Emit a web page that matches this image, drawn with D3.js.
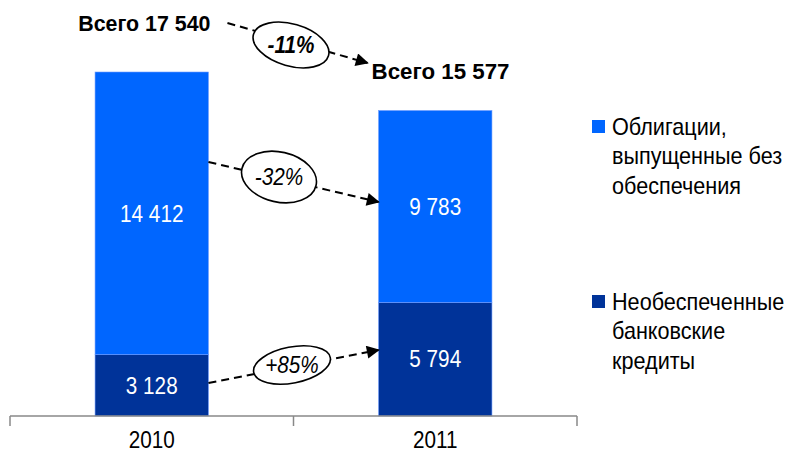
<!DOCTYPE html>
<html>
<head>
<meta charset="utf-8">
<script src="https://cdn.jsdelivr.net/npm/d3@7"></script>
<style>
  body { margin: 0; background: #fff; }
  svg { display: block; font-family: "Liberation Sans", Arial, sans-serif; }
</style>
</head>
<body>
<svg></svg>
<script>
const width = 787;
const height = 461;

// data
const years = ["2010", "2011"];
const secured = [14412, 9783];      // Облигации, выпущенные без обеспечения
const loans = [3128, 5794];         // Необеспеченные банковские кредиты
const totals = [17540, 15577];
const totalLabels = ["Всего 17 540", "Всего 15 577"];
const segLabels = [["3 128", "14 412"], ["5 794", "9 783"]];
const changes = ["-11%", "-32%", "+85%"];
const seriesNames = [
  ["Облигации,", "выпущенные без", "обеспечения"],
  ["Необеспеченные", "банковские", "кредиты"]
];
const colors = ["#0066ff", "#003399"];

const x = d3.scaleBand()
  .domain(years)
  .range([10, 577])
  .paddingInner(0.6)
  .paddingOuter(0.3);

const y = d3.scaleLinear()
  .domain([0, 17540])
  .range([416, 72]);

const svg = d3.select("svg")
  .attr("width", width)
  .attr("height", height)
  .attr("viewBox", [0, 0, width, height]);

// narrow text a bit, the original font is a condensed Arial
const sx = 0.9;
function place(sel, px, py, k = sx) {
  return sel.attr("transform", `translate(${px},${py}) scale(${k},1)`);
}

const defs = svg.append("defs");
defs.append("marker")
  .attr("id", "arrow")
  .attr("viewBox", "0 0 10 10")
  .attr("refX", 9)
  .attr("refY", 5)
  .attr("markerWidth", 7.5)
  .attr("markerHeight", 6.5)
  .attr("markerUnits", "strokeWidth")
  .attr("orient", "auto")
  .append("path")
  .attr("d", "M0,0L10,5L0,10Z")
  .attr("fill", "#000");

// stacked data
const rows = years.map((yr, i) => ({ year: yr, loans: loans[i], secured: secured[i] }));
const stack = d3.stack().keys(["loans", "secured"])(rows);

svg.append("g")
  .selectAll("g")
  .data(stack)
  .join("g")
  .attr("fill", (d, i) => colors[1 - i])
  .selectAll("rect")
  .data(d => d)
  .join("rect")
  .attr("x", d => x(d.data.year))
  .attr("y", d => y(d[1]))
  .attr("width", x.bandwidth())
  .attr("height", d => y(d[0]) - y(d[1]))
  .attr("stroke", "#6f9cff")
  .attr("stroke-width", 0.6);

// segment value labels
stack.forEach((s, si) => {
  s.forEach((d, i) => {
    place(svg.append("text"),
      x(d.data.year) + x.bandwidth() / 2, (y(d[0]) + y(d[1])) / 2)
      .attr("dy", "0.36em")
      .attr("text-anchor", "middle")
      .attr("fill", "#fff")
      .attr("font-size", 23)
      .text(segLabels[i][si]);
  });
});

// axis
const axisY = y(0);
svg.append("line")
  .attr("x1", x.range()[0]).attr("x2", x.range()[1])
  .attr("y1", axisY).attr("y2", axisY)
  .attr("stroke", "#888").attr("stroke-width", 1.5);
const boundaries = [0, 1, 2].map(i => x.range()[0] + i * x.step());
svg.append("g")
  .selectAll("line")
  .data(boundaries)
  .join("line")
  .attr("x1", d => d).attr("x2", d => d)
  .attr("y1", axisY).attr("y2", axisY + 10)
  .attr("stroke", "#888").attr("stroke-width", 1.5);

svg.append("g")
  .attr("transform", `translate(0,${axisY})`)
  .call(d3.axisBottom(x).tickSize(0).tickPadding(16))
  .call(g => g.select(".domain").remove())
  .call(g => g.selectAll("text")
    .attr("font-size", 23)
    .attr("font-family", "Liberation Sans, Arial, sans-serif")
    .attr("fill", "#000")
    .attr("transform", `scale(${sx},1)`));

// totals
place(svg.append("text"), x("2010") + x.bandwidth() + 2, y(totals[0]) - 41, 0.93)
  .attr("text-anchor", "end")
  .attr("font-weight", "bold")
  .attr("font-size", 23)
  .text(totalLabels[0]);
place(svg.append("text"), x("2011") - 7, y(totals[1]) - 31, 0.97)
  .attr("font-weight", "bold")
  .attr("font-size", 23)
  .text(totalLabels[1]);

// change arrows with ellipses
const right2010 = x("2010") + x.bandwidth();
const left2011 = x("2011");
const arrows = [
  { x1: right2010 + 19, y1: 23, x2: left2011 - 11, y2: 63, cx: 291, cy: 45, rx: 39, ry: 21, rot: 16, bold: true },
  { x1: right2010, y1: 162, x2: left2011, y2: 202, cx: 279, cy: 177, rx: 38, ry: 25, rot: 13, bold: false },
  { x1: right2010, y1: 383, x2: left2011, y2: 350, cx: 292, cy: 365, rx: 39, ry: 18, rot: -11, bold: false }
];

const ann = svg.append("g");
arrows.forEach((a, i) => {
  ann.append("line")
    .attr("x1", a.x1).attr("y1", a.y1)
    .attr("x2", a.x2).attr("y2", a.y2)
    .attr("stroke", "#000")
    .attr("stroke-width", 2)
    .attr("stroke-dasharray", "8,5")
    .attr("marker-end", "url(#arrow)");
  ann.append("ellipse")
    .attr("cx", a.cx).attr("cy", a.cy)
    .attr("rx", a.rx).attr("ry", a.ry)
    .attr("transform", `rotate(${a.rot},${a.cx},${a.cy})`)
    .attr("fill", "#fff")
    .attr("stroke", "#000")
    .attr("stroke-width", 1.6);
  place(ann.append("text"), a.cx, a.cy)
    .attr("dy", "0.36em")
    .attr("text-anchor", "middle")
    .attr("font-size", 23)
    .attr("font-style", "italic")
    .attr("font-weight", a.bold ? "bold" : "normal")
    .text(changes[i]);
});

// legend
const legendTops = [120, 295];
const legend = svg.append("g");
seriesNames.forEach((lines, i) => {
  legend.append("rect")
    .attr("x", 592).attr("y", legendTops[i])
    .attr("width", 13).attr("height", 13)
    .attr("fill", colors[i]);
  place(legend.append("text"), 612, legendTops[i] + 15, 0.94)
    .attr("font-size", 23)
    .selectAll("tspan")
    .data(lines)
    .join("tspan")
    .attr("x", 0)
    .attr("dy", (d, j) => j === 0 ? 0 : 29.5)
    .text(d => d);
});
</script>
</body>
</html>
